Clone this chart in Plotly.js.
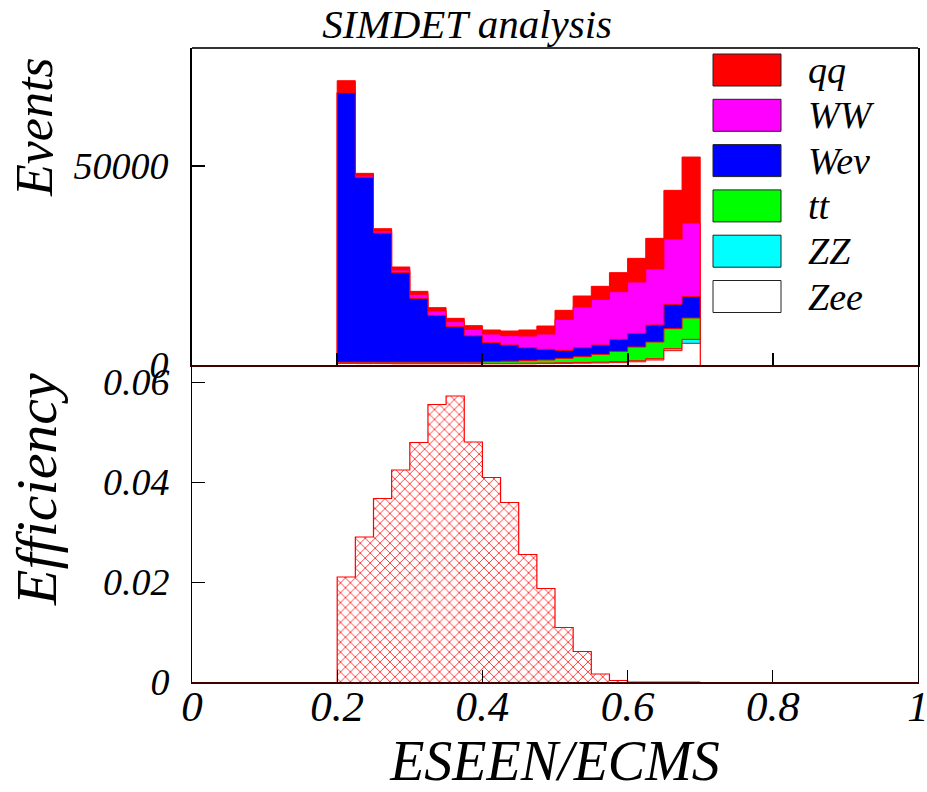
<!DOCTYPE html>
<html>
<head>
<meta charset="utf-8">
<script src="https://cdn.plot.ly/plotly-3.0.1.min.js"></script>
<style>html,body{margin:0;padding:0;background:#fff;}#chart{width:927px;height:792px;}</style>
</head>
<body>
<div id="chart"></div>
<script>
// ---- data ----
const binEdges = [0.2,0.225,0.25,0.275,0.3,0.325,0.35,0.375,0.4,0.425,0.45,0.475,0.5,0.525,0.55,0.575,0.6,0.625,0.65,0.675,0.7];
const seriesNames = ["qq","WW","Weν","tt","ZZ","Zee"];
const seriesColors = ["#ff0000","#ff00ff","#0000ff","#00ff00","#00ffff","#ffffff"];
const qq  = [2920,670,580,750,750,840,840,920,1000,1170,1500,2000,2260,2760,3260,4760,5930,7680,12190,16530];
const WW  = [80,330,500,670,1000,1080,1250,1590,2170,2340,2920,3840,7770,10180,11450,11950,12870,14040,16380,18460];
const Wev = [67550,46330,32380,22440,16010,11750,8910,6650,4770,4060,3260,2680,2000,2260,2340,3010,3420,4260,6090,5350];
const tt  = [200,250,250,300,300,300,300,300,430,530,640,750,1090,1440,1950,2570,3430,4170,5020,5350];
const ZZ  = [100,100,100,100,100,100,100,100,100,120,150,150,180,200,220,250,280,340,500,1000];
const Zee = [400,350,350,300,300,300,300,300,300,300,300,350,400,450,500,600,800,1250,3590,5430];
const efficiency = [0.0210,0.0290,0.0367,0.0424,0.0479,0.0555,0.0572,0.0480,0.0409,0.0359,0.0255,0.0187,0.0109,0.0061,0.0016,0.0003,0,0,0,0];
const xTickVals = [0,0.2,0.4,0.6,0.8,1];
const xTickText = ["0","0.2","0.4","0.6","0.8","1"];
const yTopTickVals = [0,50000];
const yTopTickText = ["0","50000"];
const yBotTickVals = [0,0.02,0.04,0.06];
const yBotTickText = ["0","0.02","0.04","0.06"];

// ---- build step outlines ----
function stepXY(vals){
  const n = vals.length;
  const xs = [binEdges[0]], ys = [0];
  for(let i=0;i<n;i++){ xs.push(binEdges[i]); ys.push(vals[i]); }
  xs.push(binEdges[n]); ys.push(vals[n-1]);
  xs.push(binEdges[n]); ys.push(0);
  return {xs, ys};
}
// stacking order bottom -> top: Zee, ZZ, tt, Wev, WW, qq
const stackBottomUp = [Zee, ZZ, tt, Wev, WW, qq];
const cum = [];
let run = new Array(binEdges.length-1).fill(0);
for(const s of stackBottomUp){ run = run.map((v,i)=>v+s[i]); cum.push(run.slice()); }
const traces = [];
for(let k=cum.length-1;k>=0;k--){
  const nameIdx = cum.length-1-k; // 0:qq ... 5:Zee
  const st = stepXY(cum[k]);
  traces.push({
    type:'scatter', mode:'lines', x:st.xs, y:st.ys, xaxis:'x', yaxis:'y',
    line:{shape:'hv', color:'#ff0000', width:1},
    fill:'tozeroy', fillcolor:seriesColors[nameIdx],
    name:seriesNames[nameIdx], showlegend:false, hoverinfo:'skip'
  });
}
const se = stepXY(efficiency);
traces.push({
  type:'scatter', mode:'lines', x:se.xs, y:se.ys, xaxis:'x2', yaxis:'y2',
  line:{shape:'hv', color:'#ff0000', width:1.2},
  fill:'tozeroy', fillcolor:'rgba(0,0,0,0)',
  fillpattern:{shape:'x', fgcolor:'#ff0000', bgcolor:'#ffffff', size:7, solidity:0.2},
  name:'Efficiency', showlegend:false, hoverinfo:'skip'
});

const F = "'Liberation Serif', 'Times New Roman', Times, serif";
const fnt = (s)=>({family:F, size:s, color:'#000', style:'italic'});

const shapes = [];
const annotations = [];
const L = 192, R = 918, T = 48, B = 682;
const px = (x)=>(x-L)/(R-L), py = (y)=>(B-y)/(B-T);
for(let i=0;i<seriesNames.length;i++){
  const y0 = 54 + i*45.3, y1 = y0 + 32;
  shapes.push({type:'rect', xref:'paper', yref:'paper', x0:px(713), x1:px(781), y0:py(y1), y1:py(y0),
    fillcolor:seriesColors[i], line:{color:'#222', width:1}});
  annotations.push({xref:'paper', yref:'paper', x:px(806), y:py((y0+y1)/2), xanchor:'left', yanchor:'middle',
    text:seriesNames[i], showarrow:false, font:fnt(38)});
}
shapes.push({type:'line', xref:'paper', yref:'paper', x0:0, x1:1, y0:1, y1:1, line:{color:'#333', width:2}});
annotations.push({xref:'paper', yref:'paper', x:px(34), y:py(127), xanchor:'center', yanchor:'middle',
  text:'Events', textangle:-90, showarrow:false, font:fnt(52)});
annotations.push({xref:'paper', yref:'paper', x:px(36), y:py(490), xanchor:'center', yanchor:'middle',
  text:'Efficiency', textangle:-90, showarrow:false, font:fnt(58)});

const layout = {
  width:927, height:792,
  margin:{l:L, r:927-R, t:T, b:792-B},
  paper_bgcolor:'#fff', plot_bgcolor:'#fff',
  showlegend:false,
  title:{text:'SIMDET analysis', font:fnt(41), xref:'container', yref:'container', x:0.504, y:1-24/792, xanchor:'center', yanchor:'middle'},
  xaxis:{domain:[0,1], anchor:'y', range:[0,1], showline:true, linecolor:'#400000', linewidth:2,
    ticks:'inside', ticklen:12, tickcolor:'#000', tickwidth:2, tickvals:[0.2,0.4,0.6,0.8], showticklabels:false,
    showgrid:false, zeroline:false},
  yaxis:{domain:[0.5,1], anchor:'x', range:[0,79450], showline:true, mirror:true, linecolor:'#000', linewidth:2,
    ticks:'inside', ticklen:13, tickcolor:'#000', tickwidth:2, tickvals:yTopTickVals, ticktext:yTopTickText,
    tickfont:fnt(38), ticklabelstandoff:14, showgrid:false, zeroline:false},
  xaxis2:{domain:[0,1], anchor:'y2', matches:'x', range:[0,1], showline:true, linecolor:'#400000', linewidth:2,
    ticks:'inside', ticklen:12, tickcolor:'#000', tickwidth:1, tickvals:xTickVals, ticktext:xTickText,
    tickfont:fnt(43), ticklabelstandoff:-15, ticklabeloverflow:'allow', showgrid:false, zeroline:false,
    title:{text:'ESEEN/ECMS', font:fnt(56), standoff:22}},
  yaxis2:{domain:[0,0.5], anchor:'x2', range:[0,0.0634], showline:true, mirror:true, linecolor:'#000', linewidth:1,
    ticks:'inside', ticklen:13, tickcolor:'#000', tickwidth:1, tickvals:yBotTickVals, ticktext:yBotTickText,
    tickfont:fnt(38), ticklabelstandoff:14, showgrid:false, zeroline:false},
  shapes, annotations
};
Plotly.newPlot('chart', traces, layout, {displayModeBar:false, staticPlot:true});
</script>
</body>
</html>
